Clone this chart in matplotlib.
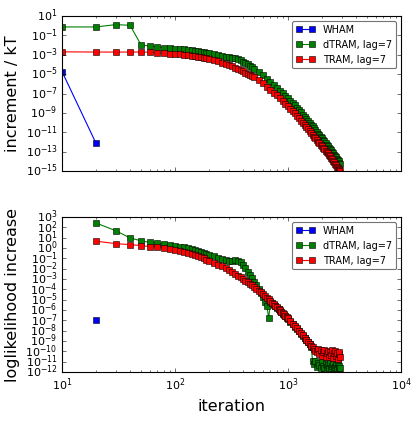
import numpy as np
import matplotlib
matplotlib.use('Agg')
import matplotlib.pyplot as plt
from matplotlib.ticker import NullLocator, FixedLocator

# ================================
# data (log10 of values)
# ================================
it_wham_top = [10, 20]
wham_top = [-4.73, -12.14]

it_top = list(range(10, 201, 10)) + list(range(220, 501, 20)) + list(range(550, 2901, 50))
dtram_top = [
    -0.13, -0.13, 0.11, 0.04, -1.97, -2.12, -2.20, -2.26, -2.32, -2.37,
    -2.40, -2.44, -2.48, -2.52, -2.57, -2.62, -2.67, -2.72, -2.77, -2.82,
    -2.93, -3.03, -3.12, -3.20, -3.26, -3.30, -3.36, -3.45, -3.58, -3.72,
    -3.86, -4.00, -4.15, -4.28, -4.42,
    -4.78, -5.12, -5.46, -5.80, -6.12, -6.42, -6.72, -6.98, -7.25, -7.50,
    -7.74, -7.98, -8.22, -8.45, -8.70, -8.95, -9.18, -9.40, -9.60, -9.80,
    -10.00, -10.20, -10.39, -10.58, -10.77, -10.95, -11.13, -11.30, -11.46, -11.62,
    -11.79, -11.95, -12.12, -12.28, -12.43, -12.58, -12.73, -12.88, -13.03, -13.18,
    -13.32, -13.45, -13.59, -13.72, -13.86, -14.00, -14.15, -14.30,
]
tram_top = [
    -2.70, -2.72, -2.72, -2.72, -2.72, -2.74, -2.80, -2.85, -2.88, -2.92,
    -2.95, -2.99, -3.03, -3.08, -3.13, -3.19, -3.25, -3.32, -3.38, -3.44,
    -3.55, -3.67, -3.80, -3.93, -4.05, -4.18, -4.32, -4.46, -4.59, -4.72,
    -4.85, -4.98, -5.10, -5.22, -5.34,
    -5.64, -5.95, -6.28, -6.60, -6.90, -7.20, -7.48, -7.78, -8.05, -8.30,
    -8.55, -8.80, -9.05, -9.30, -9.55, -9.80, -10.03, -10.25, -10.45, -10.65,
    -10.85, -11.05, -11.25, -11.45, -11.64, -11.82, -11.99, -12.15, -12.30, -12.45,
    -12.60, -12.75, -12.89, -13.02, -13.17, -13.32, -13.47, -13.62, -13.78, -13.95,
    -14.10, -14.25, -14.40, -14.55, -14.68, -14.80, -14.92, -15.05,
]

it_wham_bot = [20]
wham_bot = [-6.94]

it_bot = list(range(20, 201, 10)) + list(range(220, 501, 20)) + list(range(525, 1001, 25)) + list(range(1050, 2901, 50))
dtram_bot = [
    2.42, 1.67, 0.97, 0.70, 0.54, 0.47, 0.38, 0.30, 0.22, 0.14,
    0.06, -0.02, -0.10, -0.19, -0.28, -0.38, -0.48, -0.58, -0.68,
    -0.82, -0.95, -1.07, -1.18, -1.27, -1.28, -1.20, -1.22, -1.40, -1.68,
    -1.98, -2.30, -2.62, -2.95, -3.25,
    -3.62, -3.98, -4.35, -4.75, -5.20, -5.65, -6.78, -5.18, -5.34, -5.49,
    -5.64, -5.79, -5.93, -6.07, -6.21, -6.35, -6.48, -6.61, -6.74, -6.87,
    -7.12, -7.37, -7.61, -7.84, -8.07, -8.29, -8.51, -8.72, -8.93, -9.13,
    -9.33, -9.55, -10.90, -11.20, -10.95, -11.50, -11.10, -11.30, -11.60, -11.00,
    -11.40, -11.60, -11.20, -11.50, -11.30, -11.60, -11.10, -11.60, -11.40, -11.20,
    -11.60, -11.50, -11.30, -11.60, -11.20, -11.60, -11.40, -11.60,
]
tram_bot = [
    0.66, 0.42, 0.33, 0.23, 0.13, 0.06, -0.03, -0.12, -0.20, -0.28,
    -0.37, -0.47, -0.58, -0.68, -0.79, -0.90, -1.01, -1.12, -1.23,
    -1.42, -1.60, -1.78, -1.96, -2.14, -2.32, -2.50, -2.67, -2.84, -3.00,
    -3.16, -3.31, -3.46, -3.61, -3.76,
    -3.94, -4.12, -4.30, -4.47, -4.64, -4.81, -4.97, -5.13, -5.29, -5.44,
    -5.59, -5.74, -5.88, -6.02, -6.16, -6.30, -6.43, -6.56, -6.69, -6.82,
    -7.07, -7.32, -7.56, -7.79, -8.02, -8.24, -8.46, -8.67, -8.88, -9.08,
    -9.27, -9.45, -9.62, -9.80, -9.95, -10.05, -9.75, -10.30, -9.90, -10.45,
    -10.10, -9.85, -10.50, -10.20, -9.95, -10.55, -10.05, -10.35, -9.90, -10.60,
    -10.20, -10.00, -10.45, -10.15, -10.70, -10.30, -10.05, -10.55,
]

# ================================
# plot
# ================================
plt.style.use('classic')

W, H = 419, 421
fig = plt.figure(figsize=(W / 80, H / 80), dpi=80)
ax1 = fig.add_axes([62 / W, 1 - 171 / H, 339 / W, 155 / H])
ax2 = fig.add_axes([62 / W, 1 - 372 / H, 339 / W, 155 / H])

def p(v):
    return 10.0 ** np.array(v)

ax1.loglog(it_wham_top, p(wham_top), 'bs-', label='WHAM')
ax1.loglog(it_top, p(dtram_top), 'gs-', label='dTRAM, lag=7')
ax1.loglog(it_top, p(tram_top), 'rs-', label='TRAM, lag=7')

ax2.loglog(it_wham_bot, p(wham_bot), 'bs-', label='WHAM')
ax2.loglog(it_bot, p(dtram_bot), 'gs-', label='dTRAM, lag=7')
ax2.loglog(it_bot, p(tram_bot), 'rs-', label='TRAM, lag=7')

ax1.set_ylim(1e-15, 1e1)
ax2.set_ylim(1e-12, 1e3)
ax1.yaxis.set_major_locator(FixedLocator([10.0 ** k for k in range(-15, 2, 2)]))
ax2.yaxis.set_major_locator(FixedLocator([10.0 ** k for k in range(-12, 4)]))

for ax in (ax1, ax2):
    ax.set_xlim(10, 1e4)
    ax.yaxis.set_minor_locator(NullLocator())
    ax.tick_params(labelsize=10)
    leg = ax.legend(loc='upper right', fontsize=8.8, numpoints=2, fancybox=True,
                    markerscale=0.85)
    leg.get_frame().set_edgecolor('0.45')

ax1.tick_params(labelbottom=False)
ax1.set_ylabel('increment / kT', fontsize=14.4)
ax2.set_ylabel('loglikelihood increase', fontsize=14.4)
ax2.set_xlabel('iteration', fontsize=14.4)

fig.savefig('out.png', dpi=80, facecolor='white')
